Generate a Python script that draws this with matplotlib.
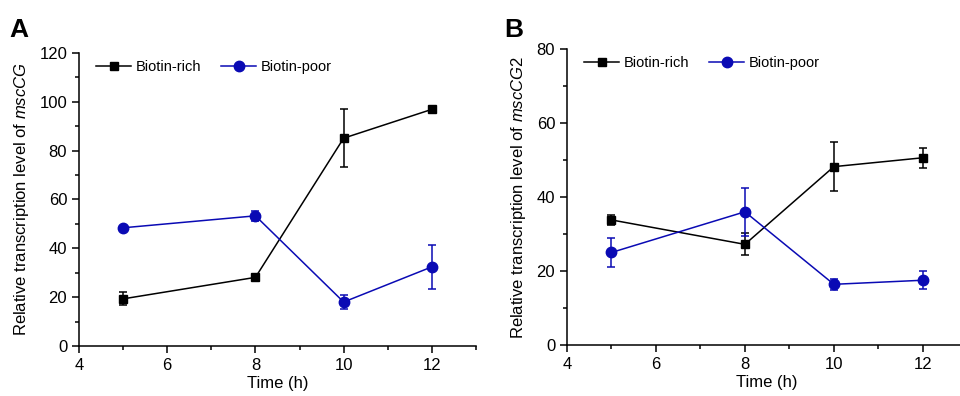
import matplotlib
matplotlib.use("Agg")
import matplotlib.pyplot as plt
from matplotlib.ticker import MultipleLocator
from matplotlib.lines import Line2D

plt.rcParams['font.family'] = ['Liberation Sans', 'DejaVu Sans']
plt.rcParams['mathtext.fontset'] = 'custom'
plt.rcParams['mathtext.it'] = 'Liberation Sans:italic'
plt.rcParams['mathtext.rm'] = 'Liberation Sans'

time = [5, 8, 10, 12]

# panel A: mscCG
a_rich = [19.3, 28.1, 85.1, 96.9]
a_rich_err = [2.7, 1.0, 11.8, 1.0]
a_poor = [48.4, 53.3, 18.0, 32.4]
a_poor_err = [0.8, 2.0, 2.7, 8.9]

# panel B: mscCG2
b_rich = [33.8, 27.2, 48.2, 50.6]
b_rich_err = [1.4, 3.0, 6.7, 2.7]
b_poor = [25.0, 36.0, 16.4, 17.5]
b_poor_err = [3.8, 6.5, 1.5, 2.4]

BLUE = '#0A0AB4'
labels = ["Biotin-rich", "Biotin-poor"]

fig = plt.figure(figsize=(9.6, 3.96), dpi=100)
axA = fig.add_axes([0.0823, 0.1263, 0.4135, 0.740])
axB = fig.add_axes([0.5906, 0.1288, 0.417, 0.7475])


def draw(ax, rich, rerr, poor, perr, ymax, ystep, gene):
    ax.errorbar(time, rich, yerr=rerr, color='black', marker='s', markersize=6,
                linewidth=1.1, elinewidth=1.1, capsize=3, capthick=1.1)
    ax.errorbar(time, poor, yerr=perr, color=BLUE, marker='o', markersize=7.5,
                linewidth=1.1, elinewidth=1.1, capsize=3, capthick=1.1)
    h1 = Line2D([], [], color='black', marker='s', markersize=6, linewidth=1.1)
    h2 = Line2D([], [], color=BLUE, marker='o', markersize=7.5, linewidth=1.1)
    ax.set_xlim(4, 13)
    ax.set_ylim(0, ymax)
    ax.xaxis.set_major_locator(MultipleLocator(2))
    ax.xaxis.set_minor_locator(MultipleLocator(1))
    ax.yaxis.set_major_locator(MultipleLocator(ystep))
    ax.yaxis.set_minor_locator(MultipleLocator(ystep / 2))
    ax.set_xticks([4, 6, 8, 10, 12])
    ax.spines['top'].set_visible(False)
    ax.spines['right'].set_visible(False)
    for s in ('left', 'bottom'):
        ax.spines[s].set_linewidth(1.1)
    ax.tick_params(which='major', direction='out', length=5, width=1.1, labelsize=12)
    ax.tick_params(which='minor', direction='out', length=3, width=1.1)
    ax.set_xlabel("Time (h)", fontsize=12, labelpad=2)
    ax.set_ylabel("Relative transcription level of $\\it{" + gene + "}$", fontsize=12, labelpad=6)
    ax.legend([h1, h2], labels, loc='upper left', ncol=2, frameon=False, fontsize=10.5,
              handlelength=2.4, handletextpad=0.3, columnspacing=1.4,
              bbox_to_anchor=(0.01, 1.02), numpoints=1)


draw(axA, a_rich, a_rich_err, a_poor, a_poor_err, 120, 20, "mscCG")
draw(axB, b_rich, b_rich_err, b_poor, b_poor_err, 80, 20, "mscCG2")

fig.text(0.010, 0.955, "A", fontsize=19, fontweight='bold', va='top')
fig.text(0.525, 0.955, "B", fontsize=19, fontweight='bold', va='top')

fig.savefig("out.png", dpi=100)
